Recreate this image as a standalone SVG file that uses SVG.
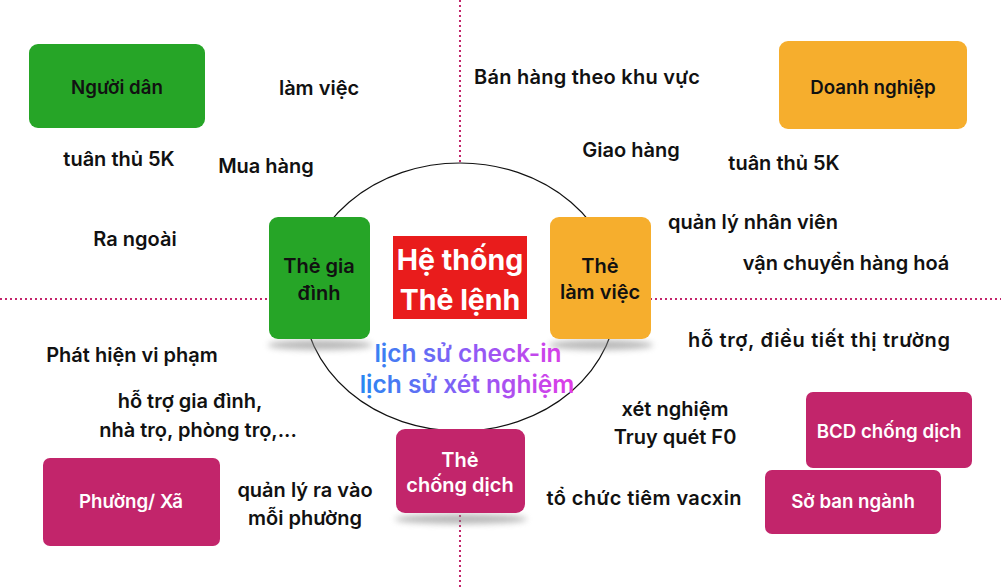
<svg xmlns="http://www.w3.org/2000/svg" width="1001" height="587" viewBox="0 0 1001 587">
<defs>
<style>
.t{font-family:Inter,"Noto Sans","DejaVu Sans",sans-serif;font-weight:600;font-size:20px;fill:#111;text-anchor:middle}
.s{font-size:18.7px}
.w{fill:#fff}
.big{font-size:28.5px;font-weight:700}
.g{font-size:24.5px;font-weight:600}
.dot{stroke:#c2256b;stroke-width:2;stroke-dasharray:2 3;fill:none}
.green{fill:#26a527}
.orange{fill:#f6ae2d}
.mag{fill:#c2256b}
</style>
<linearGradient id="grad" x1="362" y1="0" x2="573" y2="0" gradientUnits="userSpaceOnUse">
<stop offset="0" stop-color="#2b86f2"/>
<stop offset="0.5" stop-color="#8b5cf6"/>
<stop offset="1" stop-color="#e03ce6"/>
</linearGradient>
<filter id="blur" x="-20%" y="-100%" width="140%" height="300%"><feGaussianBlur stdDeviation="3"/></filter>
</defs>
<rect width="1001" height="587" fill="#fff"/>
<g id="connectors">
<line class="dot" x1="460" y1="0" x2="460" y2="587"/>
<line class="dot" x1="0" y1="299" x2="1001" y2="299"/>
<ellipse cx="460" cy="297" rx="157" ry="134" fill="#fff" stroke="#111" stroke-width="1.2"/>
</g>
<g id="nguoi-dan"><rect class="green" x="29" y="44" width="176" height="84" rx="9"/><text class="t s" x="117" y="94">Người dân</text></g>
<g id="doanh-nghiep"><rect class="orange" x="779" y="41" width="188" height="88" rx="9"/><text class="t s" x="873" y="94">Doanh nghiệp</text></g>
<g id="the-gia-dinh"><ellipse cx="320" cy="345" rx="52" ry="5" fill="#888" opacity="0.6" filter="url(#blur)"/><rect class="green" x="269" y="217" width="101" height="122" rx="9"/><text class="t" x="319" y="273">Thẻ gia</text><text class="t" x="319" y="300">đình</text></g>
<g id="the-lam-viec"><ellipse cx="601" cy="345" rx="52" ry="5" fill="#888" opacity="0.6" filter="url(#blur)"/><rect class="orange" x="550" y="217" width="101" height="122" rx="9"/><text class="t" x="600" y="273">Thẻ</text><text class="t" x="600" y="299">làm việc</text></g>
<g id="he-thong"><rect fill="#e91c1c" x="393" y="236" width="134" height="83"/><text class="t w big" x="460" y="270">Hệ thống</text><text class="t w big" x="460" y="310">Thẻ lệnh</text></g>
<g id="lich-su"><text class="t g" x="468" y="362" style="fill:url(#grad)">lịch sử check-in</text><text class="t g" x="467" y="393" style="fill:url(#grad)">lịch sử xét nghiệm</text></g>
<g id="the-chong-dich"><ellipse cx="461" cy="519" rx="66" ry="5" fill="#888" opacity="0.6" filter="url(#blur)"/><rect class="mag" x="396" y="429" width="129" height="84" rx="9"/><text class="t w" x="460" y="467">Thẻ</text><text class="t w" x="460" y="492">chống dịch</text></g>
<g id="bcd"><rect class="mag" x="806" y="392" width="166" height="76" rx="7"/><text class="t w s" x="889" y="438">BCD chống dịch</text></g>
<g id="so-ban-nganh"><rect class="mag" x="765" y="470" width="176" height="64" rx="7"/><text class="t w s" x="853" y="508">Sở ban ngành</text></g>
<g id="phuong-xa"><rect class="mag" x="43" y="458" width="177" height="88" rx="7"/><text class="t w s" x="131" y="508">Phường/ Xã</text></g>
<g id="labels">
<text class="t" x="319" y="95">làm việc</text>
<text class="t" x="119" y="166">tuân thủ 5K</text>
<text class="t" x="266" y="173">Mua hàng</text>
<text class="t" x="135" y="246">Ra ngoài</text>
<text class="t" x="587" y="84" textLength="226">Bán hàng theo khu vực</text>
<text class="t" x="631" y="157">Giao hàng</text>
<text class="t" x="784" y="170">tuân thủ 5K</text>
<text class="t" x="753" y="229">quản lý nhân viên</text>
<text class="t" x="846" y="270">vận chuyển hàng hoá</text>
<text class="t" x="819" y="347" textLength="262">hỗ trợ, điều tiết thị trường</text>
<text class="t" x="132" y="362">Phát hiện vi phạm</text>
<text class="t" x="190" y="408">hỗ trợ gia đình,</text>
<text class="t" x="198" y="437">nhà trọ, phòng trọ,...</text>
<text class="t" x="305" y="497">quản lý ra vào</text>
<text class="t" x="305" y="525">mỗi phường</text>
<text class="t" x="675" y="416">xét nghiệm</text>
<text class="t" x="675" y="444">Truy quét F0</text>
<text class="t" x="644" y="505" textLength="195">tổ chức tiêm vacxin</text>
</g>
</svg>
